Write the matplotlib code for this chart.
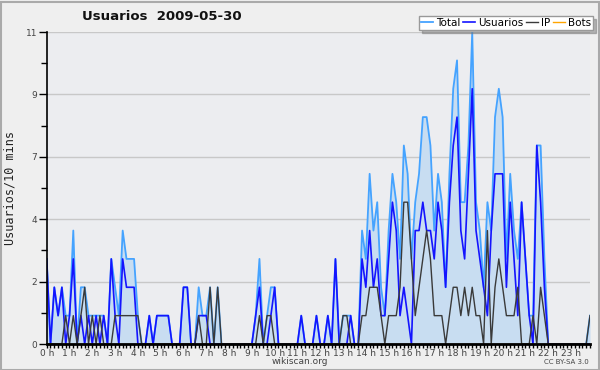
import matplotlib
matplotlib.use("Agg")
import matplotlib.pyplot as plt
from matplotlib.patches import Rectangle
from matplotlib.ticker import FixedLocator, MultipleLocator

title = "Usuarios  2009-05-30"
ylabel = "Usuarios/10 mins"
hour_labels = [f"{h} h" for h in range(24)]
series_names = ["Total", "Usuarios", "IP", "Bots"]

# one value per 10-minute bin (144 bins)
total = [3, 0, 2, 1, 2, 1, 1, 4, 0, 2, 2, 1, 1, 1, 1, 1, 0, 3, 2, 1, 4, 3, 3, 3,
         1, 0, 0, 1, 0, 1, 1, 1, 1, 0, 0, 0, 2, 2, 0, 0, 2, 1, 1, 2, 0, 2, 0, 0,
         0, 0, 0, 0, 0, 0, 0, 1, 3, 0, 1, 2, 2, 0, 0, 0, 0, 0, 0, 1, 0, 0, 0, 1,
         0, 0, 1, 0, 3, 0, 1, 1, 1, 0, 0, 4, 3, 6, 4, 5, 2, 1, 4, 6, 5, 3, 7, 6,
         3, 5, 6, 8, 8, 7, 4, 6, 5, 2, 6, 9, 10, 5, 5, 7, 11, 5, 4, 2, 5, 4, 8, 9,
         8, 3, 6, 4, 3, 5, 3, 1, 1, 7, 7, 3, 0, 0, 0, 0, 0, 0, 0, 0, 0, 0, 0, 1]
usuarios = [3, 0, 2, 1, 2, 0, 1, 3, 0, 1, 0, 1, 0, 1, 0, 1, 0, 3, 1, 0, 3, 2, 2, 2,
            0, 0, 0, 1, 0, 1, 1, 1, 1, 0, 0, 0, 2, 2, 0, 0, 1, 1, 1, 0, 0, 0, 0, 0,
            0, 0, 0, 0, 0, 0, 0, 1, 2, 0, 0, 1, 2, 0, 0, 0, 0, 0, 0, 1, 0, 0, 0, 1,
            0, 0, 1, 0, 3, 0, 0, 0, 1, 0, 0, 3, 2, 4, 2, 3, 1, 1, 3, 5, 4, 1, 2, 1,
            0, 4, 4, 5, 4, 4, 3, 5, 4, 2, 5, 7, 8, 4, 3, 6, 9, 4, 3, 2, 1, 4, 6, 6,
            6, 2, 5, 3, 1, 5, 3, 1, 0, 7, 5, 2, 0, 0, 0, 0, 0, 0, 0, 0, 0, 0, 0, 0]
ip = [0, 0, 0, 0, 0, 1, 0, 1, 0, 1, 2, 0, 1, 0, 1, 0, 0, 0, 1, 1, 1, 1, 1, 1,
      1, 0, 0, 0, 0, 0, 0, 0, 0, 0, 0, 0, 0, 0, 0, 0, 1, 0, 0, 2, 0, 2, 0, 0,
      0, 0, 0, 0, 0, 0, 0, 0, 1, 0, 1, 1, 0, 0, 0, 0, 0, 0, 0, 0, 0, 0, 0, 0,
      0, 0, 0, 0, 0, 0, 1, 1, 0, 0, 0, 1, 1, 2, 2, 2, 1, 0, 1, 1, 1, 2, 5, 5,
      3, 1, 2, 3, 4, 3, 1, 1, 1, 0, 1, 2, 2, 1, 2, 1, 2, 1, 1, 0, 4, 0, 2, 3,
      2, 1, 1, 1, 2, 0, 0, 0, 1, 0, 2, 1, 0, 0, 0, 0, 0, 0, 0, 0, 0, 0, 0, 1]
bots = [0, 0, 0, 0, 0, 0, 0, 0, 0, 0, 0, 0, 0, 0, 0, 0, 0, 0, 0, 0, 0, 0, 0, 0,
        0, 0, 0, 0, 0, 0, 0, 0, 0, 0, 0, 0, 0, 0, 0, 0, 0, 0, 0, 0, 0, 0, 0, 0,
        0, 0, 0, 0, 0, 0, 0, 0, 0, 0, 0, 0, 0, 0, 0, 0, 0, 0, 0, 0, 0, 0, 0, 0,
        0, 0, 0, 0, 0, 0, 0, 0, 0, 0, 0, 0, 0, 0, 0, 0, 0, 0, 0, 0, 0, 0, 0, 0,
        0, 0, 0, 0, 0, 0, 0, 0, 0, 0, 0, 0, 0, 0, 0, 0, 0, 0, 0, 0, 0, 0, 0, 0,
        0, 0, 0, 0, 0, 0, 0, 0, 0, 0, 0, 0, 0, 0, 0, 0, 0, 0, 0, 0, 0, 0, 0, 0]

W, H = 600, 370
fig = plt.figure(figsize=(W / 100, H / 100), dpi=100)
fig.patch.set_facecolor("#efefef")
fig.patches.append(Rectangle((0.5 / W, 0.5 / H), 1 - 2 / W, 1 - 2 / H,
                             transform=fig.transFigure, fill=False,
                             edgecolor="#aaaaaa", linewidth=1.5))

x0, x1, y0, y1 = 46.7, 590, 32, 344
ax = fig.add_axes([x0 / W, 1 - y1 / H, (x1 - x0) / W, (y1 - y0) / H])
ax.set_facecolor("#ecedf0")

xs = list(range(len(total)))
ax.fill_between(xs, 0, total, color="#c8ddf1", linewidth=0, zorder=2)
colors = ["#45a3ff", "#1414ff", "#3a3a3a", "#ffa500"]
handles = []
for name, ys, c, lw in zip(series_names, [total, usuarios, ip, bots], colors,
                           [1.3, 1.2, 1.0, 1.0]):
    ln, = ax.plot(xs, ys, color=c, linewidth=lw, label=name, zorder=3)
    handles.append(ln)

ax.set_xlim(0, len(total) - 1)
ax.set_ylim(0, 11)
yt = [11 * k / 5 for k in range(6)]
ax.yaxis.set_major_locator(FixedLocator(yt))
ax.yaxis.set_minor_locator(FixedLocator([11 * (k + 0.5) / 5 for k in range(5)]))
ax.set_yticklabels([str(int(round(v))) for v in yt])
ax.grid(axis="y", which="major", color="#c8c8c8", linewidth=1, zorder=1)

ax.xaxis.set_major_locator(FixedLocator([6 * h for h in range(24)]))
ax.xaxis.set_minor_locator(MultipleLocator(1))
ax.set_xticklabels(hour_labels)

ax.tick_params(axis="both", which="both", direction="out", color="black",
               labelcolor="#444444", labelsize=6.5)
ax.tick_params(axis="x", which="both", length=3, width=1, pad=0.5)
ax.tick_params(axis="y", which="major", length=6, width=1, pad=1)
ax.tick_params(axis="y", which="minor", length=4, width=1)
for s in ["top", "right"]:
    ax.spines[s].set_visible(False)
ax.spines["left"].set_linewidth(1.2)
ax.spines["bottom"].set_linewidth(2)
ax.spines["left"].set_zorder(5)
ax.spines["bottom"].set_zorder(5)

fig.text(10 / W, 1 - 188 / H, ylabel, rotation=90, ha="center", va="center",
         family="DejaVu Sans Mono", fontsize=8.5, color="#222222")
fig.text(162 / W, 1 - 17 / H, title, ha="center", va="center",
         fontsize=9.5, fontweight="bold", color="#111111")
fig.text(300 / W, 1 - 362 / H, "wikiscan.org", ha="center", va="center",
         fontsize=6.5, color="#444444")
fig.text(589 / W, 1 - 362 / H, "CC BY-SA 3.0", ha="right", va="center",
         fontsize=5, color="#444444")

leg = fig.legend(handles=handles, loc="upper right",
                 bbox_to_anchor=(593 / W, 1 - 16 / H), ncol=4, fontsize=7.5,
                 frameon=True, fancybox=False, shadow={"color": "#777777"},
                 handlelength=1.1, handletextpad=0.3, columnspacing=0.3,
                 borderpad=0.2, borderaxespad=0)
leg.get_frame().set_edgecolor("#999999")
leg.get_frame().set_facecolor("white")
leg.get_frame().set_linewidth(1)

fig.savefig("out.png", dpi=100, facecolor=fig.get_facecolor())
